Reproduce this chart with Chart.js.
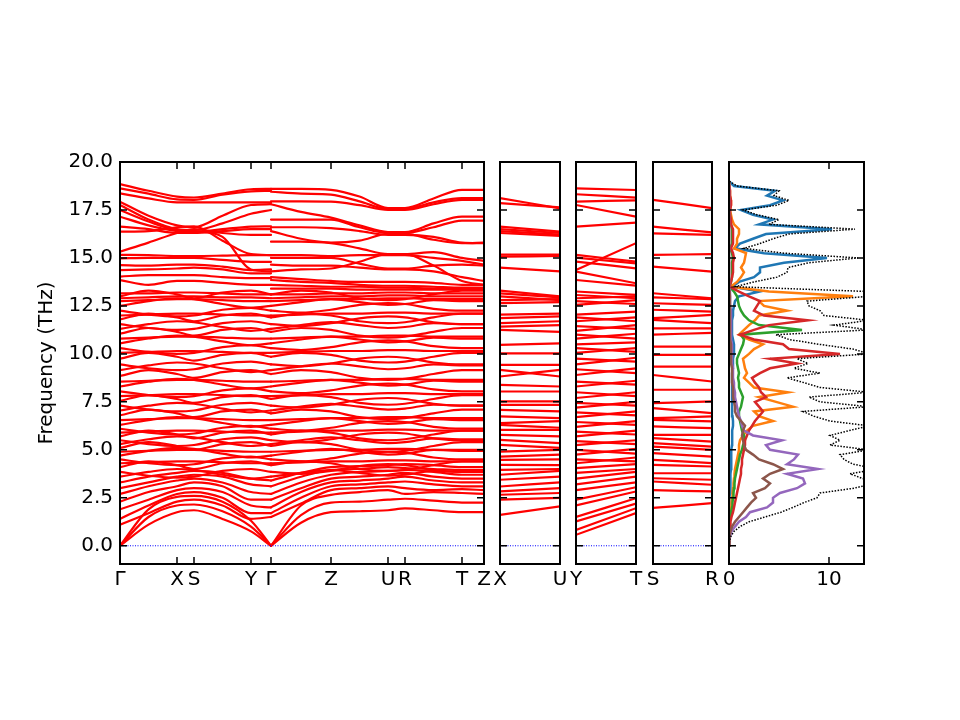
<!DOCTYPE html>
<html>
<head>
<meta charset="utf-8">
<script src="https://cdn.jsdelivr.net/npm/chart.js@4.4.0/dist/chart.umd.min.js"></script>
<style>
  body { margin: 0; background: #fff; }
  #wrap { position: relative; width: 960px; height: 720px; }
  #wrap canvas { position: absolute; left: 0; top: 0; }
</style>
</head>
<body>
<div id="wrap">
  <canvas id="bands" width="960" height="720"></canvas>
  <canvas id="xu" width="960" height="720"></canvas>
  <canvas id="yt" width="960" height="720"></canvas>
  <canvas id="sr" width="960" height="720"></canvas>
  <canvas id="dos" width="960" height="720"></canvas>
</div>
<script>
// PATH (main panel): G-X-S-Y-G | G-Z-U-R-T-Z, positions in path units
const pathA = [0, 28.5, 57, 74, 102.5, 131, 151];
const pathB = [151, 181, 211, 239.5, 268, 285, 313.5, 342, 364];
const mainTickX = [0, 57, 74, 131, 151, 211, 268, 285, 342, 364];
const mainTickLabels = ['Γ', 'X', 'S', 'Y', 'Γ', 'Z', 'U', 'R', 'T', 'Z'];

const freqTicks = [0, 2.5, 5, 7.5, 10, 12.5, 15, 17.5, 20];
const freqMin = -0.95;
const freqMax = 20;

// BANDS: 7 values on pathA, then 9 values on pathB (THz)
const acousticBands = [
  [0, 1.1, 1.75, 1.85, 1.4, 0.75, 0, 0, 1.2, 1.75, 1.8, 1.85, 1.95, 1.85, 1.75, 1.75],
  [0, 1.5, 2.1, 2.15, 1.8, 1.0, 0, 0, 1.6, 2.25, 2.3, 2.4, 2.45, 2.35, 2.25, 2.25],
  [0, 1.9, 2.55, 2.6, 2.3, 1.3, 0, 0, 2.1, 2.65, 2.8, 2.9, 2.7, 2.8, 2.75, 2.7]
];

const lowBands = [
  [1.1, 1.7, 2.3, 2.4, 2.1, 1.4, 1.5, 1.5, 2.2, 2.9, 3.0, 3.1, 3.0, 2.9, 2.95, 2.9],
  [1.4, 2.1, 2.7, 2.8, 2.5, 1.7, 1.7, 1.7, 2.5, 3.1, 3.2, 3.3, 3.35, 3.2, 3.1, 3.1],
  [1.9, 2.4, 2.9, 3.0, 2.8, 2.1, 2.0, 2.0, 2.8, 3.3, 3.4, 3.5, 3.6, 3.4, 3.3, 3.3],
  [2.3, 2.8, 3.1, 3.3, 3.1, 2.4, 2.4, 2.4, 3.0, 3.5, 3.6, 3.7, 3.8, 3.6, 3.5, 3.5],
  [2.7, 3.1, 3.4, 3.5, 3.3, 2.8, 2.7, 2.7, 3.3, 3.7, 3.85, 3.9, 3.95, 3.85, 3.7, 3.7],
  [3.0, 3.3, 3.6, 3.7, 3.6, 3.2, 3.1, 3.1, 3.6, 3.95, 4.0, 4.1, 4.05, 4.0, 3.95, 3.95],
  [3.3, 3.6, 3.8, 3.9, 3.8, 3.5, 3.4, 3.4, 3.8, 4.1, 4.15, 4.2, 4.25, 4.2, 4.1, 4.1]
];

const midBands = [
  [3.6, 3.85, 4.0, 3.95, 3.7, 3.5, 3.6, 3.6, 3.8, 3.95, 3.8, 3.65, 3.7, 3.9, 3.85, 3.85],
  [3.85, 3.65, 3.55, 3.6, 3.9, 4.0, 3.85, 3.85, 3.75, 3.9, 4.15, 4.25, 4.2, 3.95, 3.85, 3.85],
  [4.1, 4.4, 4.2, 4.0, 4.3, 4.4, 4.2, 4.2, 4.4, 4.3, 4.0, 3.9, 3.95, 4.2, 4.4, 4.4],
  [4.3, 4.35, 4.4, 4.4, 4.35, 4.3, 4.3, 4.3, 4.35, 4.4, 4.4, 4.45, 4.45, 4.4, 4.4, 4.4],
  [4.5, 4.3, 4.2, 4.25, 4.55, 4.65, 4.5, 4.5, 4.4, 4.55, 4.8, 4.9, 4.85, 4.6, 4.5, 4.5],
  [4.7, 4.95, 5.1, 5.05, 4.8, 4.6, 4.7, 4.7, 4.9, 5.05, 4.9, 4.75, 4.8, 5.0, 4.95, 4.95],
  [4.9, 4.95, 5.0, 5.0, 4.95, 4.9, 4.9, 4.9, 4.95, 5.0, 5.0, 5.05, 5.05, 5.0, 5.0, 5.0],
  [5.1, 5.4, 5.2, 5.0, 5.3, 5.4, 5.2, 5.2, 5.4, 5.3, 5.0, 4.9, 4.95, 5.2, 5.4, 5.4],
  [5.3, 5.55, 5.7, 5.65, 5.4, 5.2, 5.3, 5.3, 5.5, 5.65, 5.5, 5.35, 5.4, 5.6, 5.55, 5.55],
  [5.5, 5.3, 5.2, 5.25, 5.55, 5.65, 5.5, 5.5, 5.4, 5.55, 5.8, 5.9, 5.85, 5.6, 5.5, 5.5],
  [5.7, 6.0, 5.8, 5.6, 5.9, 6.0, 5.8, 5.8, 6.0, 5.9, 5.6, 5.5, 5.55, 5.8, 6.0, 6.0],
  [5.9, 5.95, 6.0, 6.0, 5.95, 5.9, 5.9, 5.9, 5.95, 6.0, 6.0, 6.05, 6.05, 6.0, 6.0, 6.0],
  [6.1, 5.9, 5.8, 5.85, 6.15, 6.25, 6.1, 6.1, 6.0, 6.15, 6.4, 6.5, 6.45, 6.2, 6.1, 6.1],
  [6.3, 6.55, 6.7, 6.65, 6.4, 6.2, 6.3, 6.3, 6.5, 6.65, 6.5, 6.35, 6.4, 6.6, 6.55, 6.55],
  [6.55, 6.6, 6.65, 6.65, 6.6, 6.55, 6.55, 6.55, 6.6, 6.65, 6.65, 6.7, 6.7, 6.65, 6.65, 6.65],
  [6.8, 7.1, 6.9, 6.7, 7.0, 7.1, 6.9, 6.9, 7.1, 7.0, 6.7, 6.6, 6.65, 6.9, 7.1, 7.1],
  [7.05, 7.3, 7.45, 7.4, 7.15, 6.95, 7.05, 7.05, 7.25, 7.4, 7.25, 7.1, 7.15, 7.35, 7.3, 7.3],
  [7.3, 7.1, 7.0, 7.05, 7.35, 7.45, 7.3, 7.3, 7.2, 7.35, 7.6, 7.7, 7.65, 7.4, 7.3, 7.3],
  [7.55, 7.85, 7.65, 7.45, 7.75, 7.85, 7.65, 7.65, 7.85, 7.75, 7.45, 7.35, 7.4, 7.65, 7.85, 7.85],
  [7.8, 7.85, 7.9, 7.9, 7.85, 7.8, 7.8, 7.8, 7.85, 7.9, 7.9, 7.95, 7.95, 7.9, 7.9, 7.9],
  [8.05, 7.85, 7.75, 7.8, 8.1, 8.2, 8.05, 8.05, 7.95, 8.1, 8.35, 8.45, 8.4, 8.15, 8.05, 8.05],
  [8.3, 8.55, 8.7, 8.65, 8.4, 8.2, 8.3, 8.3, 8.5, 8.65, 8.5, 8.35, 8.4, 8.6, 8.55, 8.55],
  [8.55, 8.6, 8.65, 8.65, 8.6, 8.55, 8.55, 8.55, 8.6, 8.65, 8.65, 8.7, 8.7, 8.65, 8.65, 8.65],
  [8.85, 9.15, 8.95, 8.75, 9.05, 9.15, 8.95, 8.95, 9.15, 9.05, 8.75, 8.65, 8.7, 8.95, 9.15, 9.15],
  [9.15, 9.4, 9.55, 9.5, 9.25, 9.05, 9.15, 9.15, 9.35, 9.5, 9.35, 9.2, 9.25, 9.45, 9.4, 9.4],
  [9.45, 9.25, 9.15, 9.2, 9.5, 9.6, 9.45, 9.45, 9.35, 9.5, 9.75, 9.85, 9.8, 9.55, 9.45, 9.45],
  [9.75, 10.05, 9.85, 9.65, 9.95, 10.05, 9.85, 9.85, 10.05, 9.95, 9.65, 9.55, 9.6, 9.85, 10.05, 10.05],
  [10.05, 10.1, 10.15, 10.15, 10.1, 10.05, 10.05, 10.05, 10.1, 10.15, 10.15, 10.2, 10.2, 10.15, 10.15, 10.15],
  [10.3, 10.1, 10.0, 10.05, 10.35, 10.45, 10.3, 10.3, 10.2, 10.35, 10.6, 10.7, 10.65, 10.4, 10.3, 10.3],
  [10.55, 10.8, 10.95, 10.9, 10.65, 10.45, 10.55, 10.55, 10.75, 10.9, 10.75, 10.6, 10.65, 10.85, 10.8, 10.8],
  [10.8, 10.85, 10.9, 10.9, 10.85, 10.8, 10.8, 10.8, 10.85, 10.9, 10.9, 10.95, 10.95, 10.9, 10.9, 10.9],
  [11.05, 11.35, 11.15, 10.95, 11.25, 11.35, 11.15, 11.15, 11.35, 11.25, 10.95, 10.85, 10.9, 11.15, 11.35, 11.35],
  [11.3, 11.55, 11.7, 11.65, 11.4, 11.2, 11.3, 11.3, 11.5, 11.65, 11.5, 11.35, 11.4, 11.6, 11.55, 11.55],
  [11.55, 11.35, 11.25, 11.3, 11.6, 11.7, 11.55, 11.55, 11.45, 11.6, 11.85, 11.95, 11.9, 11.65, 11.55, 11.55],
  [11.8, 12.1, 11.9, 11.7, 12.0, 12.1, 11.9, 11.9, 12.1, 12.0, 11.7, 11.6, 11.65, 11.9, 12.1, 12.1],
  [12.0, 12.05, 12.1, 12.1, 12.05, 12.0, 12.0, 12.0, 12.05, 12.1, 12.1, 12.15, 12.15, 12.1, 12.1, 12.1],
  [12.25, 12.05, 11.95, 12.0, 12.3, 12.4, 12.25, 12.25, 12.15, 12.3, 12.55, 12.65, 12.6, 12.35, 12.25, 12.25],
  [12.5, 12.75, 12.9, 12.85, 12.6, 12.4, 12.5, 12.5, 12.7, 12.85, 12.7, 12.55, 12.6, 12.8, 12.75, 12.75],
  [12.75, 12.8, 12.85, 12.85, 12.8, 12.75, 12.75, 12.75, 12.8, 12.85, 12.85, 12.9, 12.9, 12.85, 12.85, 12.85],
  [12.9, 12.95, 13.0, 13.0, 12.95, 12.95, 12.9, 12.9, 12.95, 13.0, 13.0, 13.05, 13.05, 13.0, 13.0, 13.0],
  [13.0, 13.3, 13.1, 12.9, 13.2, 13.3, 13.1, 13.1, 13.3, 13.2, 12.9, 12.8, 12.85, 13.1, 13.3, 13.3],
  [13.15, 13.15, 13.2, 13.2, 13.15, 13.1, 13.1, 13.1, 13.1, 13.15, 13.15, 13.2, 13.2, 13.15, 13.15, 13.15]
];

const highBands = [
  [18.85, 18.5, 18.2, 18.15, 18.35, 18.58, 18.6, 18.6, 18.6, 18.55, 18.2, 17.6, 17.6, 18.1, 18.55, 18.55],
  [18.63, 18.35, 18.05, 18.03, 18.3, 18.47, 18.5, 18.45, 18.35, 18.3, 17.95, 17.55, 17.55, 17.9, 18.12, 18.12],
  [18.37, 18.1, 17.9, 17.9, 17.9, 17.9, 17.9, 17.95, 17.95, 17.93, 17.75, 17.5, 17.5, 17.8, 18.03, 18.03],
  [17.93, 17.2, 16.7, 16.6, 17.2, 17.76, 17.8, 17.8, 17.4, 17.1, 16.7, 16.35, 16.35, 16.8, 17.15, 17.15],
  [17.76, 17.0, 16.5, 16.45, 16.8, 17.3, 17.5, 17.0, 17.0, 17.0, 16.6, 16.3, 16.3, 16.6, 16.95, 16.95],
  [17.5, 16.9, 16.45, 16.4, 16.1, 14.4, 14.3, 16.6, 16.6, 16.55, 16.4, 16.2, 16.2, 16.1, 15.8, 15.77],
  [17.15, 16.7, 16.4, 16.35, 16.5, 16.63, 16.65, 16.4, 16.0, 15.8, 15.9, 16.25, 16.25, 15.95, 15.77, 15.8],
  [16.63, 16.5, 16.3, 16.3, 16.4, 16.5, 16.5, 15.85, 15.85, 15.77, 15.5, 15.2, 15.2, 15.3, 15.0, 14.85],
  [16.37, 16.4, 16.6, 16.65, 15.9, 15.2, 15.15, 15.15, 15.15, 15.1, 15.15, 15.15, 15.15, 15.0, 14.85, 14.65],
  [15.33, 15.8, 16.3, 16.5, 16.3, 16.2, 16.2, 15.0, 15.0, 15.0, 14.7, 14.45, 14.45, 14.6, 14.65, 14.6],
  [15.16, 15.15, 15.1, 15.1, 15.12, 15.15, 15.15, 14.65, 14.6, 14.6, 14.5, 14.4, 14.4, 14.3, 14.0, 13.8],
  [14.98, 15.0, 15.0, 15.0, 14.9, 14.8, 14.8, 14.3, 14.4, 14.45, 14.8, 15.2, 15.2, 14.6, 13.8, 13.6],
  [14.63, 14.6, 14.65, 14.65, 14.55, 14.37, 14.4, 14.0, 13.9, 13.8, 13.75, 13.75, 13.75, 13.7, 13.6, 13.6],
  [14.37, 14.4, 14.45, 14.5, 14.4, 14.2, 14.2, 13.85, 13.75, 13.7, 13.6, 13.55, 13.55, 13.5, 13.45, 13.45],
  [14.03, 14.1, 14.1, 14.1, 14.0, 13.95, 13.95, 13.6, 13.55, 13.5, 13.5, 13.45, 13.45, 13.4, 13.4, 13.4],
  [13.85, 13.6, 13.8, 13.8, 13.7, 13.6, 13.6, 13.4, 13.4, 13.4, 13.35, 13.35, 13.35, 13.35, 13.35, 13.35]
];

// SIDE PANELS: [start, end] frequencies
const xuLabels = ['X', 'U'];
const xuBands = [
  [18.12, 17.58], [17.86, 17.63], [16.63, 16.37], [16.5, 16.3], [16.4, 16.22], [16.3, 16.15],
  [15.17, 15.17], [15.07, 15.1], [14.5, 14.3], [13.3, 13.0], [13.15, 12.95], [13.0, 12.8],
  [12.8, 12.85], [12.65, 12.7], [12.05, 12.1], [11.86, 11.95], [11.6, 11.7], [11.42, 11.5],
  [11.25, 11.15], [10.47, 10.55], [10.03, 10.03], [9.43, 9.43], [9.17, 8.82], [8.82, 9.17],
  [8.39, 8.3], [8.04, 8.04], [7.52, 7.52], [7.34, 7.34], [7.08, 7.0], [6.74, 6.65],
  [6.39, 6.5], [6.3, 6.15], [6.04, 6.04], [5.78, 5.7], [5.52, 5.35], [5.26, 5.1],
  [4.91, 5.0], [4.65, 4.75], [4.48, 4.5], [4.22, 4.2], [3.96, 4.0], [3.7, 3.9],
  [3.44, 3.6], [3.09, 3.3], [2.83, 3.0], [2.66, 2.75], [2.4, 2.5], [1.61, 2.05]
];

const ytLabels = ['Y', 'T'];
const ytBands = [
  [18.63, 18.54], [18.32, 18.14], [17.94, 18.0], [17.76, 17.15], [16.63, 16.84], [14.37, 15.77],
  [15.16, 14.81], [15.02, 14.72], [14.81, 14.46], [14.29, 13.68], [13.85, 13.56], [13.25, 13.07],
  [13.07, 12.9], [12.9, 13.0], [12.75, 12.6], [12.55, 12.8], [12.05, 12.2], [11.9, 11.7],
  [11.7, 11.9], [11.45, 11.3], [11.2, 11.5], [11.0, 10.8], [10.8, 11.05], [10.5, 10.6],
  [10.3, 10.1], [10.05, 10.3], [9.75, 9.6], [9.45, 9.8], [9.2, 9.0], [8.9, 9.25],
  [8.55, 8.4], [8.3, 8.6], [8.0, 7.8], [7.7, 8.0], [7.45, 7.3], [7.2, 7.5],
  [6.95, 6.8], [6.7, 7.0], [6.45, 6.3], [6.2, 6.5], [5.95, 5.8], [5.7, 6.0],
  [5.45, 5.3], [5.25, 5.5], [5.0, 4.8], [4.75, 5.05], [4.5, 4.4], [4.3, 4.6],
  [4.05, 4.25], [3.8, 4.0], [3.5, 3.85], [3.2, 3.6], [2.9, 3.3], [2.4, 3.05],
  [2.1, 2.83], [1.5, 2.48], [1.27, 2.2], [0.83, 1.96], [0.57, 1.7]
];

const srLabels = ['S', 'R'];
const srBands = [
  [18.03, 17.6], [16.63, 16.33], [16.28, 16.2], [15.16, 15.2], [14.55, 14.29], [13.16, 12.9],
  [12.95, 12.85], [12.64, 12.55], [12.3, 12.2], [11.86, 12.03], [11.77, 11.6], [11.33, 11.33],
  [11.0, 11.1], [10.38, 10.38], [9.95, 9.95], [9.34, 9.34], [8.9, 8.56], [8.13, 8.13],
  [7.43, 7.52], [7.17, 6.91], [6.65, 6.74], [6.56, 6.48], [6.22, 6.13], [5.78, 5.78],
  [5.61, 5.43], [5.35, 5.17], [5.17, 5.0], [4.83, 4.65], [4.48, 4.31], [4.22, 4.13],
  [3.78, 3.78], [3.52, 3.44], [3.35, 3.18], [2.9, 2.83], [1.97, 2.22]
];

// DOS (states/THz) on a frequency grid
const dosTicks = [0, 10];
const dosMax = 13.5;
const dosFreq = [
  0, 0.25, 0.5, 0.75, 1, 1.25, 1.5, 1.75, 2, 2.25, 2.5, 2.75, 3,
  3.25, 3.5, 3.75, 4, 4.25, 4.5, 4.75, 5, 5.25, 5.5, 5.75,
  6, 6.25, 6.5, 6.75, 7, 7.25, 7.5, 7.75, 8, 8.25, 8.5, 8.75,
  9, 9.25, 9.5, 9.75, 10, 10.25, 10.5, 10.75, 11, 11.25, 11.5, 11.75,
  12, 12.25, 12.5, 12.75, 13, 13.25,
  13.5, 13.75, 14, 14.25, 14.5, 14.75, 15, 15.25, 15.5, 15.75, 16, 16.25,
  16.5, 16.75, 17, 17.25, 17.5, 17.75, 18, 18.25, 18.5, 18.75, 19
];
const dosTotal = [
  0, 0.05, 0.2, 0.5, 1.1, 2.0, 3.6, 5.2, 6.4, 7.5, 8.8, 9.1, 12.5,
  14.5, 13.4, 12.1, 15.0, 12.4, 11.5, 11.1, 14.0, 10.1, 11.1, 10.1,
  12.0, 14.0, 10.1, 8.5, 7.4, 14.0, 9.1, 8.0, 14.0, 9.1, 7.5, 5.8,
  9.1, 6.5, 7.9, 6.8, 14.0, 12.4, 9.0, 6.0, 4.7, 14.0, 10.5, 14.0,
  9.5, 9.1, 8.0, 7.8, 14.0, 14.0,
  0.6, 2.5, 4.8, 5.8, 5.9, 8.0, 12.9, 5.5, 1.5, 3.1, 4.4, 6.0,
  12.6, 4.0, 5.0, 2.8, 1.4, 4.8, 6.0, 4.5, 5.0, 0.8, 0
];
const pdos1 = [
  0, 0, 0, 0, 0.02, 0.03, 0.04, 0.05, 0.06, 0.07, 0.08, 0.1, 0.12,
  0.15, 0.15, 0.15, 0.2, 0.2, 0.2, 0.25, 0.25, 0.3, 0.3, 0.3,
  0.35, 0.4, 0.4, 0.35, 0.3, 0.3, 0.3, 0.3, 0.3, 0.3, 0.3, 0.3,
  0.35, 0.4, 0.4, 0.4, 0.5, 0.5, 0.5, 0.4, 0.3, 0.3, 0.3, 0.3,
  0.4, 0.4, 0.5, 0.6, 1.0, 3.1,
  0.3, 1.0, 2.5, 3.1, 3.1, 5.5, 9.8, 3.5, 0.6, 1.1, 2.4, 3.7,
  10.3, 3.0, 4.4, 2.4, 1.2, 4.1, 5.4, 3.8, 4.6, 0.5, 0
];
const pdos2 = [
  0, 0, 0, 0.02, 0.04, 0.06, 0.1, 0.15, 0.2, 0.25, 0.3, 0.35, 0.4,
  0.45, 0.5, 0.55, 0.6, 0.7, 0.8, 0.9, 1.0, 1.0, 1.1, 1.4,
  1.8, 2.4, 4.4, 3.0, 2.5, 6.4, 4.7, 3.0, 5.9, 2.5, 2.0, 1.5,
  1.8, 1.6, 1.5, 1.4, 2.0, 2.5, 3.4, 2.0, 1.0, 1.5, 2.0, 2.6,
  3.0, 5.8, 3.5, 3.0, 12.4, 4.0,
  0.15, 0.8, 1.2, 1.5, 1.2, 1.5, 1.6, 1.7, 0.5, 0.8, 0.8, 1.0,
  1.0, 0.5, 0.3, 0.2, 0.1, 0.2, 0.2, 0.1, 0.1, 0.05, 0
];
const pdos3 = [
  0, 0, 0, 0.02, 0.05, 0.08, 0.12, 0.2, 0.3, 0.35, 0.4, 0.45, 0.5,
  0.55, 0.6, 0.7, 0.8, 0.9, 1.0, 1.1, 1.3, 1.4, 1.6, 1.5,
  1.3, 1.2, 1.1, 1.0, 1.0, 1.2, 1.3, 1.4, 1.2, 1.0, 1.0, 0.9,
  1.0, 0.9, 0.8, 0.8, 1.0, 1.2, 1.4, 1.5, 1.2, 7.3, 3.0, 2.0,
  1.5, 1.2, 1.0, 0.9, 0.8, 0.5,
  0.05, 0.2, 0.3, 0.3, 0.3, 0.3, 0.4, 0.3, 0.1, 0.3, 0.3, 0.3,
  0.3, 0.2, 0.1, 0.1, 0.05, 0.1, 0.1, 0.05, 0.05, 0, 0
];
const pdos4 = [
  0, 0, 0.02, 0.05, 0.1, 0.15, 0.25, 0.4, 0.5, 0.6, 0.7, 0.8, 0.9,
  1.0, 1.1, 1.2, 1.2, 1.3, 1.3, 1.4, 1.5, 1.6, 1.6, 1.8,
  2.0, 2.3, 2.6, 3.0, 3.4, 3.0, 2.6, 3.7, 3.2, 3.0, 2.6, 2.3,
  3.1, 4.1, 6.8, 4.1, 11.1, 6.0, 5.4, 2.5, 1.1, 2.5, 4.0, 7.9,
  3.5, 2.5, 2.8, 3.1, 2.0, 1.0,
  0.05, 0.2, 0.3, 0.4, 0.4, 0.4, 0.5, 0.4, 0.2, 0.4, 0.4, 0.4,
  0.4, 0.2, 0.2, 0.1, 0.1, 0.2, 0.2, 0.1, 0.1, 0.05, 0
];
const pdos5 = [
  0, 0.03, 0.1, 0.25, 0.6, 1.0, 1.7, 2.1, 3.8, 4.4, 4.4, 5.1, 6.8,
  7.6, 7.4, 5.8, 8.9, 5.8, 6.5, 6.9, 4.1, 3.7, 5.3, 2.4,
  1.5, 1.3, 1.2, 1.0, 0.9, 0.8, 0.7, 0.6, 0.6, 0.5, 0.5, 0.4,
  0.4, 0.4, 0.3, 0.3, 0.3, 0.3, 0.3, 0.2, 0.2, 0.2, 0.2, 0.2,
  0.2, 0.2, 0.1, 0.1, 0.1, 0.1,
  0, 0, 0, 0, 0, 0, 0, 0, 0, 0, 0, 0,
  0, 0, 0, 0, 0, 0, 0, 0, 0, 0, 0
];
const pdos6 = [
  0, 0.02, 0.07, 0.15, 0.3, 0.6, 1.0, 1.4, 1.8, 2.2, 2.7, 2.4, 3.6,
  4.1, 3.4, 4.1, 5.4, 4.4, 3.0, 2.4, 1.7, 1.5, 1.4, 1.3,
  1.4, 1.6, 1.2, 0.8, 0.6, 0.6, 0.5, 0.4, 0.4, 0.4, 0.3, 0.3,
  0.3, 0.3, 0.2, 0.2, 0.2, 0.2, 0.2, 0.1, 0.1, 0.1, 0.1, 0.1,
  0.1, 0.1, 0.1, 0.1, 0.1, 0.05,
  0, 0, 0, 0, 0, 0, 0, 0, 0, 0, 0, 0,
  0, 0, 0, 0, 0, 0, 0, 0, 0, 0, 0
];

// PANEL BOXES (chart area left/right in page px)
const boxMain = [120, 484];
const boxXU = [500, 560];
const boxYT = [576, 636];
const boxSR = [653, 712];
const boxDOS = [729, 864];

Chart.defaults.font.family = "'DejaVu Sans', sans-serif";
Chart.defaults.font.size = 20;
Chart.defaults.color = '#000';

// spines + inward ticks, like the matplotlib classic look
const frameTicks = {
  id: 'frameTicks',
  afterDatasetsDraw(chart, args, opts) {
    const { ctx, chartArea: a, scales: { x, y } } = chart;
    ctx.save();
    ctx.strokeStyle = '#000';
    ctx.lineWidth = 1.5;
    ctx.beginPath();
    opts.yTicks.forEach(v => {
      const py = y.getPixelForValue(v);
      ctx.moveTo(a.left, py); ctx.lineTo(a.left + 7, py);
      ctx.moveTo(a.right, py); ctx.lineTo(a.right - 7, py);
    });
    opts.xTicks.forEach(v => {
      const px = x.getPixelForValue(v);
      ctx.moveTo(px, a.bottom); ctx.lineTo(px, a.bottom - 7);
      ctx.moveTo(px, a.top); ctx.lineTo(px, a.top + 7);
    });
    ctx.stroke();
    ctx.lineWidth = 2;
    ctx.strokeRect(a.left, a.top, a.right - a.left, a.bottom - a.top);
    ctx.restore();
  }
};

const bandLine = (points) => ({
  data: points,
  borderColor: '#ff0000',
  borderWidth: 2.2,
  borderCapStyle: 'round',
  pointRadius: 0,
  showLine: true,
  fill: false,
  cubicInterpolationMode: 'monotone'
});

const zeroLine = (x0, x1) => ({
  data: [{ x: x0, y: 0 }, { x: x1, y: 0 }],
  borderColor: '#0000ff',
  borderWidth: 1,
  borderDash: [1, 1.5],
  pointRadius: 0,
  showLine: true,
  order: -1
});

function makePanel(id, box, xMin, xMax, xTicks, xLabels, datasets, withY) {
  return new Chart(document.getElementById(id), {
    type: 'scatter',
    data: { datasets },
    options: {
      responsive: false,
      animation: false,
      events: [],
      layout: { padding: { left: withY ? 31 : box[0], right: 960 - box[1], top: 162, bottom: 0 } },
      plugins: {
        legend: { display: false },
        tooltip: { enabled: false },
        frameTicks: { xTicks, yTicks: freqTicks }
      },
      scales: {
        x: {
          type: 'linear', min: xMin, max: xMax,
          grid: { display: false, drawTicks: false },
          border: { display: false },
          afterBuildTicks: s => { s.ticks = xTicks.map(v => ({ value: v })); },
          ticks: { autoSkip: false, maxRotation: 0, minRotation: 0, padding: 4,
                   callback: (v, i) => xLabels[i] },
          afterFit: s => { s.height = 156; }
        },
        y: {
          type: 'linear', min: freqMin, max: freqMax, display: withY,
          grid: { display: false, drawTicks: false },
          border: { display: false },
          afterBuildTicks: s => { s.ticks = freqTicks.map(v => ({ value: v })); },
          ticks: { padding: 7, callback: v => v.toFixed(1) },
          title: { display: true, text: 'Frequency (THz)', padding: { top: 4, bottom: 0 } },
          afterFit: s => { s.width = withY ? 120 - 31 : 0; }
        }
      }
    },
    plugins: [frameTicks]
  });
}

// MAIN BAND PANEL
const mainRows = [...acousticBands, ...lowBands, ...midBands, ...highBands];
const mainSets = [];
mainRows.forEach(r => {
  mainSets.push(bandLine(pathA.map((x, i) => ({ x, y: r[i] }))));
  mainSets.push(bandLine(pathB.map((x, i) => ({ x, y: r[pathA.length + i] }))));
});
mainSets.push(zeroLine(0, 364));
makePanel('bands', boxMain, 0, 364, mainTickX, mainTickLabels, mainSets, true);

// SIDE PANELS
const sideSets = rows => rows.map(r => bandLine([{ x: 0, y: r[0] }, { x: 1, y: r[1] }])).concat([zeroLine(0, 1)]);
makePanel('xu', boxXU, 0, 1, [0, 1], xuLabels, sideSets(xuBands), false);
makePanel('yt', boxYT, 0, 1, [0, 1], ytLabels, sideSets(ytBands), false);
makePanel('sr', boxSR, 0, 1, [0, 1], srLabels, sideSets(srBands), false);

// DOS PANEL
const dosLine = (vals, color, width, dash) => ({
  data: vals.map((v, i) => ({ x: v, y: dosFreq[i] })),
  borderColor: color,
  borderWidth: width,
  borderDash: dash,
  pointRadius: 0,
  showLine: true,
  fill: false,
  tension: 0
});
const dosSets = [
  dosLine(dosTotal, '#000000', 1.5, [1.5, 1.5]),
  dosLine(pdos6, '#8c564b', 2.5, []),
  dosLine(pdos5, '#9467bd', 2.5, []),
  dosLine(pdos4, '#d62728', 2.5, []),
  dosLine(pdos3, '#2ca02c', 2.5, []),
  dosLine(pdos2, '#ff7f0e', 2.5, []),
  dosLine(pdos1, '#1f77b4', 2.5, [])
];
makePanel('dos', boxDOS, 0, dosMax, dosTicks, dosTicks.map(String), dosSets, false);
</script>
</body>
</html>
